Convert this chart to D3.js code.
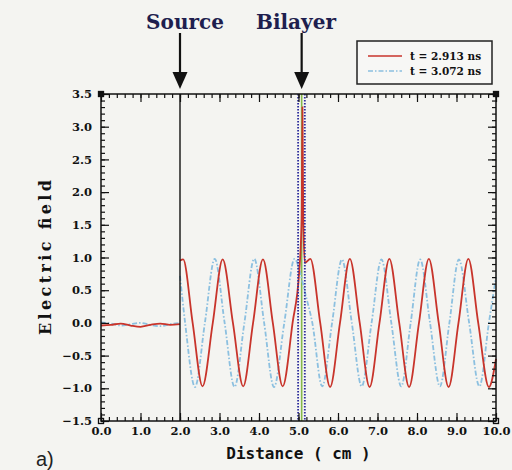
<!DOCTYPE html>
<html>
<head>
<meta charset="utf-8">
<script src="https://cdn.jsdelivr.net/npm/d3@7"></script>
<style>
  body { margin: 0; background: #f4f4f1; }
  svg { display: block; }
</style>
</head>
<body>
<svg id="chart" width="512" height="470"></svg>
<script>
// values (distance in cm, field in arb. units)
var redLeft = [[0, -0.04], [0.25, -0.03], [0.5, -0.01], [0.75, -0.04], [1.0, -0.06],
  [1.25, -0.03], [1.5, -0.01], [1.75, -0.03], [2.0, -0.02]];
var blueLeft = [[0, 0.01], [0.25, -0.01], [0.5, -0.04], [0.75, -0.02], [1.0, 0.0],
  [1.25, -0.03], [1.5, -0.05], [1.75, -0.02], [2.0, 0.0]];

// t = 2.913 ns
var redRight = [[2.0, 0.95], [2.08, 0.97], [2.32, 0], [2.57, -0.97], [2.83, 0], [3.08, 0.97],
  [3.34, 0], [3.6, -0.97], [3.85, 0], [4.1, 0.97], [4.35, 0], [4.6, -0.97], [4.85, 0],
  [5.02, 0.8], [5.08, 1.6], [5.1, 3.3], [5.12, 1.6], [5.16, 0.92], [5.3, 0.98], [5.55, 0],
  [5.8, -0.98], [6.05, 0], [6.3, 0.98], [6.55, 0], [6.8, -0.98], [7.05, 0], [7.3, 0.98],
  [7.55, 0], [7.8, -0.98], [8.05, 0], [8.3, 0.98], [8.55, 0], [8.8, -0.98], [9.05, 0],
  [9.3, 0.98], [9.55, 0], [9.82, -0.98], [10.0, -0.55]];

// t = 3.072 ns
var blueRight = [[2.0, 0.72], [2.13, 0], [2.38, -0.98], [2.63, 0], [2.88, 0.98], [3.13, 0],
  [3.38, -0.98], [3.63, 0], [3.88, 0.98], [4.13, 0], [4.38, -0.98], [4.64, 0], [4.9, 0.98],
  [5.05, 0.75], [5.15, 0.5], [5.35, 0], [5.6, -0.97], [5.85, 0], [6.1, 0.97], [6.35, 0],
  [6.6, -0.97], [6.85, 0], [7.1, 0.97], [7.35, 0], [7.6, -0.97], [7.84, 0], [8.08, 0.97],
  [8.33, 0], [8.58, -0.97], [8.82, 0], [9.06, 0.97], [9.32, 0], [9.58, -0.97], [9.82, 0],
  [10.0, 0.7]];

var legendLabels = ['t = 2.913 ns', 't = 3.072 ns'];
var sourceX = 2.0;
var bilayerX = 5.08;
var bilayerEdges = [4.99, 5.16];
var xMajor = d3.range(0, 10.01, 1);
var xMinor = d3.range(0, 10.01, 0.2);
var yMajor = d3.range(-1.5, 3.51, 0.5);
var yMinor = d3.range(-1.5, 3.51, 0.1);

var svg = d3.select('#chart');
var pL = 101, pR = 496, pT = 94, pB = 421;

var x = d3.scaleLinear().domain([0, 10]).range([pL, pR]);
var y = d3.scaleLinear().domain([-1.5, 3.5]).range([pB, pT]);

var tickFont = 'DejaVu Serif, serif';

// bilayer centre line goes under the curves
svg.append('line')
  .attr('x1', x(bilayerX)).attr('x2', x(bilayerX))
  .attr('y1', y(3.5)).attr('y2', y(-1.5))
  .attr('stroke', '#86b84a').attr('stroke-width', 1.6);

var line = d3.line()
  .x(function(d) { return x(d[0]); })
  .y(function(d) { return y(d[1]); })
  .curve(d3.curveMonotoneX);

[blueLeft, blueRight].forEach(function(s) {
  svg.append('path').attr('d', line(s))
    .attr('fill', 'none').attr('stroke', '#8cc0e0').attr('stroke-width', 1.8)
    .attr('stroke-dasharray', '5,2,1.5,2');
});
[redLeft, redRight].forEach(function(s) {
  svg.append('path').attr('d', line(s))
    .attr('fill', 'none').attr('stroke', '#c8342b').attr('stroke-width', 1.8);
});

// bilayer edges (dotted) and source line
bilayerEdges.forEach(function(b) {
  svg.append('line')
    .attr('x1', x(b)).attr('x2', x(b))
    .attr('y1', y(3.5)).attr('y2', y(-1.5))
    .attr('stroke', '#2c2c9c').attr('stroke-width', 1.8)
    .attr('stroke-dasharray', '1.5,1.5');
});
svg.append('line')
  .attr('x1', x(sourceX)).attr('x2', x(sourceX))
  .attr('y1', y(3.5)).attr('y2', y(-1.5))
  .attr('stroke', '#111').attr('stroke-width', 1.4);

// axes, ticks pointing inward on all four sides
function minorAxis(axis, vals) {
  return axis.tickValues(vals).tickSize(-4).tickFormat(function() { return ''; });
}
var fmt = d3.format('.1f');
var gx = svg.append('g').attr('transform', 'translate(0,' + pB + ')');
gx.call(minorAxis(d3.axisBottom(x), xMinor));
gx.append('g').attr('class', 'major')
  .call(d3.axisBottom(x).tickValues(xMajor).tickSize(-8).tickPadding(6).tickFormat(fmt));
var gxt = svg.append('g').attr('transform', 'translate(0,' + pT + ')');
gxt.call(minorAxis(d3.axisTop(x), xMinor));
gxt.append('g').call(d3.axisTop(x).tickValues(xMajor).tickSize(-8).tickFormat(function() { return ''; }));

var gy = svg.append('g').attr('transform', 'translate(' + pL + ',0)');
gy.call(minorAxis(d3.axisLeft(y), yMinor));
gy.append('g').attr('class', 'major')
  .call(d3.axisLeft(y).tickValues(yMajor).tickSize(-8).tickPadding(9).tickFormat(fmt));
var gyr = svg.append('g').attr('transform', 'translate(' + pR + ',0)');
gyr.call(minorAxis(d3.axisRight(y), yMinor));
gyr.append('g').call(d3.axisRight(y).tickValues(yMajor).tickSize(-8).tickFormat(function() { return ''; }));

svg.selectAll('.domain').remove();
svg.selectAll('.tick line').attr('stroke', '#111').attr('stroke-width', 1.2);
svg.selectAll('.major .tick text')
  .attr('font-family', tickFont).attr('font-weight', 'bold')
  .attr('font-size', 11.5).attr('fill', '#111');

svg.append('rect')
  .attr('x', pL).attr('y', pT).attr('width', pR - pL).attr('height', pB - pT)
  .attr('fill', 'none').attr('stroke', '#111').attr('stroke-width', 1.5);

[[pL, pT], [pR, pT], [pL, pB], [pR, pB]].forEach(function(c) {
  svg.append('rect').attr('x', c[0] - 2.5).attr('y', c[1] - 2.5)
    .attr('width', 5).attr('height', 5)
    .attr('fill', c[1] === pT ? '#111' : 'none').attr('stroke', '#111').attr('stroke-width', 1.3);
});

// axis titles
svg.append('text')
  .attr('x', (pL + pR) / 2).attr('y', 459)
  .attr('text-anchor', 'middle')
  .attr('font-family', 'DejaVu Sans Mono, monospace').attr('font-weight', 'bold')
  .attr('font-size', 16).attr('fill', '#111')
  .text('Distance  ( cm )');
svg.append('text')
  .attr('transform', 'translate(51,' + (pT + pB) / 2 + ') rotate(-90)')
  .attr('text-anchor', 'middle')
  .attr('font-family', tickFont).attr('font-weight', 'bold')
  .attr('font-size', 16).attr('fill', '#111')
  .attr('textLength', 155).attr('lengthAdjust', 'spacing')
  .text('Electric field');

// labels + arrows above the plot
var marks = [{ label: 'Source', at: sourceX, tx: 185 }, { label: 'Bilayer', at: bilayerX, tx: 296 }];
marks.forEach(function(m) {
  var cx = x(m.at);
  svg.append('text')
    .attr('x', m.tx).attr('y', 29).attr('text-anchor', 'middle')
    .attr('font-family', tickFont).attr('font-weight', 'bold')
    .attr('font-size', 20).attr('fill', '#1e1e4e')
    .text(m.label);
  svg.append('line')
    .attr('x1', cx).attr('x2', cx).attr('y1', 33).attr('y2', 74)
    .attr('stroke', '#111').attr('stroke-width', 2.2);
  svg.append('path')
    .attr('d', 'M' + (cx - 7.5) + ',72 L' + (cx + 7.5) + ',72 L' + cx + ',89 Z')
    .attr('fill', '#111');
});

// legend
var lg = svg.append('g');
lg.append('rect').attr('x', 357).attr('y', 41).attr('width', 135).attr('height', 43)
  .attr('fill', '#f7f7f5').attr('stroke', '#222').attr('stroke-width', 1.5);
legendLabels.forEach(function(t, i) {
  var ly = 56 + i * 15;
  lg.append('line').attr('x1', 368).attr('x2', 402).attr('y1', ly).attr('y2', ly)
    .attr('stroke', i === 0 ? '#c8342b' : '#8cc0e0').attr('stroke-width', 1.6)
    .attr('stroke-dasharray', i === 0 ? null : '5,2,1.5,2');
  lg.append('text').attr('x', 410).attr('y', ly + 4)
    .attr('font-family', tickFont).attr('font-weight', 'bold')
    .attr('font-size', 10.5).attr('fill', '#111')
    .text(t);
});

svg.append('text')
  .attr('x', 36).attr('y', 466)
  .attr('font-family', 'Liberation Sans, Arial, sans-serif')
  .attr('font-size', 20).attr('fill', '#222')
  .text('a)');
</script>
</body>
</html>
